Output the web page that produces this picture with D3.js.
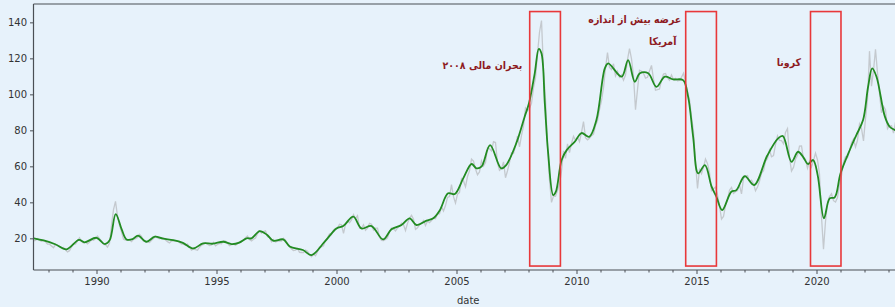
<!DOCTYPE html>
<html><head><meta charset="utf-8">
<script src="https://cdn.jsdelivr.net/npm/d3@7"></script>
<style>
html,body{margin:0;padding:0;background:#e7f2fb;}
svg{display:block;}
</style></head><body>
<svg id="chart" width="895" height="307"></svg>
<script>
// ---- data ----
const grayStartYear = 1987;
const grayStartMonth = 5; // May 1987, monthly values
const grayValues = [
 18.58,18.86,19.86,18.98,18.31,18.76,18.06,16.75,
 16.75,15.73,14.73,16.60,16.31,15.49,14.71,14.94,13.65,12.48,13.14,15.24,
 17.03,16.87,18.58,20.28,18.17,17.45,17.92,16.88,17.92,19.08,18.87,19.84,
 21.25,19.81,18.39,16.61,16.35,15.10,17.17,27.17,35.92,40.5,32.31,27.28,
 23.57,19.54,19.08,19.18,19.19,18.17,19.40,19.77,20.50,22.21,21.11,18.41,
 18.16,18.05,17.63,18.92,19.89,21.16,20.25,19.74,20.27,20.26,19.08,18.15,
 17.39,18.45,18.63,18.60,18.50,17.67,16.77,16.74,16.18,16.76,15.07,13.42,
 14.04,13.70,13.41,15.04,16.16,16.58,17.52,16.69,15.95,16.33,17.77,15.82,
 16.57,17.20,16.94,18.68,18.43,17.28,15.96,16.51,16.70,16.14,17.02,18.04,
 18.60,18.92,20.39,21.35,19.32,18.55,19.50,20.20,22.54,24.08,22.85,23.75,
 24.15,20.90,20.56,18.09,19.33,17.94,18.42,18.63,18.50,20.07,19.04,17.14,
 15.37,14.10,13.21,13.39,14.35,12.21,12.12,12.02,13.41,12.83,11.03,9.82,
 11.12,10.27,12.51,15.29,15.23,15.86,19.08,20.27,22.52,22.00,24.59,25.47,
 25.51,27.78,27.49,22.76,27.74,29.80,28.68,30.20,33.14,30.96,32.55,25.66,
 25.62,27.50,24.50,25.66,28.31,27.85,24.61,25.68,25.62,20.54,18.80,18.71,
 19.42,20.28,23.70,25.73,25.35,24.08,25.74,26.65,28.40,27.54,24.34,28.33,
 31.18,32.77,30.61,25.00,25.86,27.65,28.35,29.89,27.11,29.61,28.75,29.81,
 31.28,30.86,33.63,33.59,37.57,35.18,38.22,42.74,43.20,49.78,43.11,39.60,
 44.51,45.48,53.10,51.88,48.65,54.35,57.52,63.98,62.91,58.54,55.24,56.86,
 62.99,60.21,62.06,70.26,69.78,68.56,73.67,73.23,61.96,57.81,58.76,62.47,
 53.68,57.56,62.05,67.49,67.21,71.05,76.93,70.76,77.17,82.34,92.41,90.93,
 92.18,94.99,103.64,109.07,122.80,134.5,141.0,113.24,97.23,71.58,52.45,39.95,
 43.44,43.32,46.54,50.18,57.30,68.61,64.44,72.51,67.65,72.77,76.66,74.46,
 76.17,73.75,78.83,84.82,75.95,74.76,75.58,77.04,77.84,82.67,85.28,91.45,
 96.52,103.72,114.64,123.26,114.99,113.83,116.97,110.22,112.83,109.55,110.77,107.87,
 110.69,119.33,125.45,119.75,110.34,91.5,102.62,113.36,112.86,111.71,109.06,109.49,
 112.96,116.05,108.47,102.25,102.56,102.92,107.93,111.28,111.60,109.08,107.79,110.76,
 108.12,108.90,107.48,107.76,109.54,111.80,106.77,101.61,97.09,87.43,79.44,62.34,
 47.76,58.10,55.89,59.52,64.08,61.48,56.56,46.52,47.62,48.43,44.27,38.01,
 30.70,32.18,38.21,41.58,46.74,48.25,44.95,45.84,46.57,49.52,44.73,53.31,
 54.58,54.87,51.59,52.31,50.33,46.37,48.48,51.70,56.15,57.51,62.71,64.37,
 69.08,65.32,66.02,72.11,76.98,74.41,74.25,72.53,78.89,81.03,64.75,57.36,
 59.41,63.96,66.14,71.23,71.32,64.22,63.92,59.04,62.83,59.71,63.21,67.31,
 63.65,55.66,32.01,14.0,29.38,40.27,43.24,44.74,40.91,40.19,42.69,49.99,
 54.77,62.28,65.41,64.81,68.53,73.16,75.17,70.75,74.49,83.54,81.05,74.17,
 86.51,97.13,124.0,104.58,113.34,125.0,111.93,100.45,89.76,93.33,91.42,80.92,
 82.50,82.59,78.43,84.64,75.47,74.84
];
const smoothYears = [
 1987.39,1987.8,1988.28,1988.75,1989.27,1989.5,1990.0,1990.35,1990.55,1990.8,1991.05,1991.25,
 1991.5,1991.73,1992.08,1992.43,1992.77,1993.2,1993.6,1994.03,1994.44,1994.85,1995.28,1995.63,
 1995.95,1996.25,1996.46,1996.8,1997.1,1997.36,1997.78,1998.05,1998.6,1998.96,1999.5,2000.0,
 2000.28,2000.7,2001.04,2001.46,2001.94,2002.29,2002.71,2003.05,2003.33,2003.75,2004.03,2004.3,
 2004.65,2004.93,2005.28,2005.63,2005.83,2006.04,2006.4,2006.86,2007.07,2007.49,2007.84,2008.02,
 2008.26,2008.43,2008.54,2008.68,2008.82,2009.03,2009.14,2009.38,2009.59,2009.93,2010.21,2010.53,
 2010.83,2011.18,2011.32,2011.88,2012.15,2012.43,2012.64,2012.99,2013.33,2013.68,2014.03,2014.44,
 2014.65,2014.86,2015.07,2015.35,2015.63,2015.83,2016.07,2016.45,2016.66,2017.01,2017.4,2017.95,
 2018.4,2018.6,2018.96,2019.23,2019.44,2019.65,2019.86,2020.05,2020.31,2020.55,2020.76,2021.0,
 2021.4,2021.66,2021.94,2022.15,2022.32,2022.5,2022.85,2023.05,2023.26,2023.5
];
const smoothValues = [
 20.0,18.8,16.7,13.9,19.1,17.8,20.3,16.8,19.0,33.5,25.0,19.4,
 19.5,21.5,18.1,20.9,19.8,19.0,17.5,14.4,17.2,17.0,18.1,16.8,
 17.6,20.0,20.0,24.0,22.0,18.7,19.4,15.5,13.5,10.7,18.0,25.5,
 26.8,32.0,25.5,26.8,19.4,25.0,27.4,31.1,27.4,29.8,31.1,35.5,
 45.0,44.6,53.3,61.3,58.9,59.8,71.8,58.9,60.7,72.8,87.6,95.0,
 111.7,125.3,122.8,95.0,67.2,44.0,45.9,63.5,69.0,73.7,78.5,76.4,
 85.7,114.4,117.2,109.8,119.0,107.0,111.7,111.7,104.2,109.8,108.3,107.9,
 98.7,76.4,56.1,60.7,48.7,43.1,35.7,45.9,46.8,54.5,49.6,66.0,
 75.5,76.8,62.5,68.1,65.3,61.3,63.5,55.0,31.1,42.2,42.8,56.0,
 69.5,77.4,85.7,104.2,114.4,109.8,87.6,82.0,80.2,79.0
];
const xTickYears = [1990,1995,2000,2005,2010,2015,2020];
const xMinorYears = d3.range(1988, 2024);
const yTickValues = [20,40,60,80,100,120,140];
const boxStarts = [2008.05, 2014.55, 2019.75];
const boxEnds = [2009.33, 2015.83, 2021.02];
const boxTop = 146, boxBottom = 4.6;
const labelTexts = ["بحران مالی ۲۰۰۸", "عرضه بیش از اندازه", "آمریکا", "کرونا"];
const labelYears = [2006.08, 2012.43, 2013.59, 2018.85];
const labelValues = [114.1, 139.6, 127.4, 115.7];

// ---- chart ----
const svg = d3.select("#chart");
const x0 = 1987.375, x1 = 2023.6;
const x = d3.scaleLinear().domain([x0, x1]).range([33.5, 33.5 + (x1 - x0) * 24]);
const y = d3.scaleLinear().domain([2.4, 150.2]).range([270, 4]);

svg.append("rect").attr("width", 895).attr("height", 307).attr("fill", "#e7f2fb");

svg.append("clipPath").attr("id", "clip").append("rect")
  .attr("x", x.range()[0]).attr("y", y.range()[1])
  .attr("width", x.range()[1] - x.range()[0]).attr("height", y.range()[0] - y.range()[1]);

const plot = svg.append("g").attr("clip-path", "url(#clip)");

const grayData = grayValues.map((v, i) => ({t: grayStartYear + (grayStartMonth - 1 + i + 0.5) / 12, v}));
plot.append("path").datum(grayData)
  .attr("fill", "none").attr("stroke", "#c4c9ce").attr("stroke-width", 1.3)
  .attr("d", d3.line().x(d => x(d.t)).y(d => y(d.v)));

const smoothData = smoothYears.map((t, i) => ({t, v: smoothValues[i]}));
plot.append("path").datum(smoothData)
  .attr("fill", "none").attr("stroke", "#228b22").attr("stroke-width", 1.8)
  .attr("d", d3.line().curve(d3.curveCatmullRom.alpha(0.5)).x(d => x(d.t)).y(d => y(d.v)));

// boxes
svg.append("g").selectAll("rect").data(boxStarts).join("rect")
  .attr("x", (d) => x(d)).attr("y", y(boxTop))
  .attr("width", (d, i) => x(boxEnds[i]) - x(d)).attr("height", y(boxBottom) - y(boxTop))
  .attr("fill", "none").attr("stroke", "#e8383a").attr("stroke-width", 1.6);

// labels
svg.append("g").selectAll("text").data(labelTexts).join("text")
  .attr("x", (d, i) => x(labelYears[i])).attr("y", (d, i) => y(labelValues[i]))
  .attr("text-anchor", "middle").attr("direction", "rtl")
  .attr("font-family", "'DejaVu Sans Condensed', 'DejaVu Sans'").attr("font-weight", "bold")
  .attr("font-stretch", "condensed").attr("font-size", 10.5)
  .attr("fill", "#8e1b1f").text(d => d);

// axes
const axisColor = "#4a4f55";
const xAxis = svg.append("g").attr("transform", `translate(0,${y.range()[0]})`)
  .call(d3.axisBottom(x).tickValues(xTickYears).tickFormat(d3.format("d")).tickSize(4).tickPadding(4));
const xMinor = svg.append("g").attr("transform", `translate(0,${y.range()[0]})`)
  .call(d3.axisBottom(x).tickValues(xMinorYears.filter(d => d % 5 !== 0)).tickFormat("").tickSize(2.5));
const yAxis = svg.append("g").attr("transform", `translate(${x.range()[0]},0)`)
  .call(d3.axisLeft(y).tickValues(yTickValues).tickSize(3.5).tickPadding(3));
[xAxis, xMinor, yAxis].forEach(g => {
  g.select(".domain").remove();
  g.selectAll("line").attr("stroke", axisColor).attr("stroke-width", 1);
  g.selectAll("text").attr("fill", "#333").attr("font-family", "DejaVu Sans").attr("font-size", 10);
});

// spines
const sp = svg.append("g").attr("fill", "none").attr("stroke", axisColor).attr("stroke-width", 1.2);
sp.append("line").attr("x1", x.range()[0]).attr("x2", x.range()[1]).attr("y1", y.range()[0]).attr("y2", y.range()[0]);
sp.append("line").attr("x1", x.range()[0]).attr("x2", x.range()[1]).attr("y1", y.range()[1]).attr("y2", y.range()[1]);
sp.append("line").attr("x1", x.range()[0]).attr("x2", x.range()[0]).attr("y1", y.range()[0]).attr("y2", y.range()[1]);
sp.append("line").attr("x1", x.range()[1]).attr("x2", x.range()[1]).attr("y1", y.range()[0]).attr("y2", y.range()[1]);

svg.append("text").attr("x", (x.range()[0] + x.range()[1]) / 2).attr("y", 304)
  .attr("text-anchor", "middle").attr("font-family", "DejaVu Sans").attr("font-size", 10)
  .attr("fill", "#333").text("date");
</script>
</body></html>
